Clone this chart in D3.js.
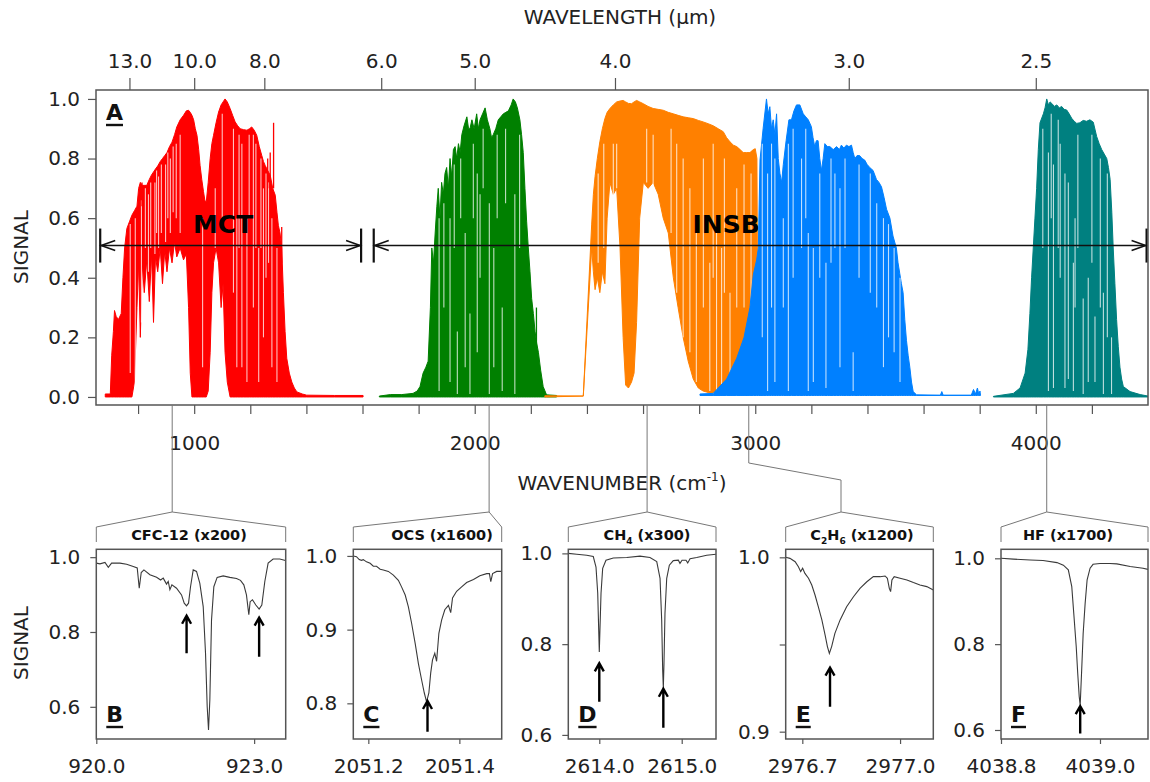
<!DOCTYPE html>
<html>
<head>
<meta charset="utf-8">
<script src="https://cdn.jsdelivr.net/npm/d3@7"></script>
<style>
body{margin:0;background:#fff}
svg text{font-family:"DejaVu Sans",Verdana,sans-serif;fill:#222}
</style>
</head>
<body>
<svg id="fig" width="1150" height="782"></svg>
<script>
// ---------- panel A : axes ----------
var wavelengthTicks = [13.0, 10.0, 8.0, 6.0, 5.0, 4.0, 3.0, 2.5]
var wavenumberTicks = [800,1000,1200,1400,1600,1800,2000,2200,2400,2600,2800,3000,3200,3400,3600,3800,4000,4200]
var signalTicksA = [0, 0.2, 0.4, 0.6, 0.8, 1.0]
var detectors = [
	{name:'MCT', from:665, to:1595, labelAt:1103},
	{name:'INSB', from:1640, to:4395, labelAt:2896}
]
var detectorLevel = 0.508

// ---------- panel A : filter spectra  [wavenumber, upper envelope, lower envelope] ----------
var redSpec = [[683,0.01,0],[701,0.01,0],[706,0.14,0],[712,0.22,0],[716,0.29,0],[722,0.27,0],[730,0.26,0],[740,0.28,0],
	[746,0.4,0],[752,0.5,0],[760,0.565,0],[770,0.59,0],[778,0.61,0],[787,0.625,0.05],[796,0.64,0.3],[802,0.70,0.45],
	[808,0.72,0.2],[815,0.71,0.45],[822,0.71,0.35],[831,0.71,0.46],[840,0.73,0.32],[848,0.745,0.48],[855,0.755,0.25],
	[862,0.765,0.47],[870,0.775,0.42],[879,0.79,0.5],[887,0.80,0.38],[895,0.81,0.49],[903,0.82,0.42],[912,0.84,0.5],
	[921,0.855,0.45],[930,0.88,0.52],[938,0.906,0.47],[950,0.93,0.5],[962,0.945,0.46],[972,0.96,0.48],[980,0.962,0.3],
	[986,0.955,0.08],[992,0.945,0],[998,0.93,0],[1004,0.9,0],[1010,0.878,0],[1016,0.83,0],[1021,0.777,0],[1027,0.73,0],
	[1033,0.69,0],[1038,0.66,0],[1043,0.654,0],[1050,0.72,0.02],[1057,0.8,0.15],[1063,0.85,0.35],[1069,0.878,0.45],
	[1078,0.92,0.5],[1087,0.956,0.45],[1096,0.98,0.3],[1103,0.99,0.38],[1110,1.0,0.15],[1118,0.99,0.05],[1128,0.968,0],
	[1137,0.945,0],[1146,0.923,0],[1155,0.91,0],[1164,0.9,0],[1176,0.897,0],[1188,0.895,0],[1197,0.9,0],[1205,0.906,0],
	[1214,0.895,0],[1223,0.878,0],[1232,0.84,0],[1241,0.81,0],[1247,0.79,0],[1253,0.777,0],[1262,0.76,0],[1271,0.744,0],
	[1280,0.7,0],[1289,0.677,0],[1295,0.62,0],[1300,0.576,0],[1306,0.55,0],[1312,0.5,0],[1318,0.35,0],[1324,0.22,0],
	[1330,0.13,0],[1339,0.08,0],[1348,0.05,0],[1357,0.03,0],[1366,0.017,0],[1385,0.01,0],[1401,0.006,0],[1500,0.005,0],[1602,0.005,0]]
var redGaps = [[772,0.58,0.08],[790,0.6,0.02],[812,0.66,0.25],[826,0.7,0.5],[837,0.68,0.42],[845,0.72,0.5],[860,0.72,0.48],
	[866,0.76,0.55],[873,0.74,0.5],[883,0.78,0.55],[898,0.78,0.52],[906,0.82,0.6],[915,0.8,0.55],[925,0.84,0.62],[936,0.85,0.6],
	[950,0.88,0.55],[1030,0.6,0.1],[1075,0.7,0.5],[1100,0.95,0.6],[1140,0.9,0.35],[1152,0.6,0.1],[1160,0.88,0.5],[1170,0.85,0.1],
	[1188,0.6,0.05],[1196,0.88,0.6],[1211,0.88,0.3],[1220,0.85,0.5],[1230,0.5,0.05],[1238,0.8,0.5],[1247,0.7,0.2],[1256,0.75,0.4],
	[1265,0.72,0.45],[1277,0.6,0.1],[1295,0.5,0.05]]
var redSpikes = [[814,0.64,0.72],[1262,0.7,0.8],[1271,0.7,0.82],[1283,0.7,0.92],[1312,0.45,0.57]]

var greenSpec = [[1660,0.003,0],[1700,0.008,0],[1740,0.008,0],[1780,0.012,0],[1795,0.02,0],[1805,0.035,0],[1816,0.08,0],
	[1826,0.1,0],[1834,0.12,0],[1842,0.3,0],[1847,0.5,0],[1853,0.45,0],[1859,0.55,0],[1865,0.64,0],[1870,0.7,0],[1876,0.6,0],
	[1882,0.72,0],[1888,0.68,0],[1894,0.75,0],[1900,0.77,0],[1906,0.7,0],[1912,0.8,0],[1918,0.74,0],[1924,0.83,0],[1930,0.84,0],
	[1936,0.8,0],[1942,0.85,0],[1948,0.82,0],[1954,0.88,0],[1962,0.91,0],[1972,0.94,0],[1978,0.9,0],[1983,0.9,0],[1990,0.93,0],
	[1998,0.9,0],[2007,0.95,0],[2013,0.9,0],[2019,0.93,0],[2028,0.95,0],[2037,0.97,0],[2045,0.93,0],[2054,0.9,0],[2060,0.87,0],
	[2066,0.88,0],[2075,0.9,0],[2084,0.93,0],[2093,0.94,0],[2102,0.95,0],[2111,0.955,0],[2120,0.96,0],[2130,0.98,0],[2137,1.0,0],
	[2145,0.99,0],[2152,0.97,0],[2161,0.93,0],[2167,0.88,0],[2173,0.82,0],[2179,0.7,0],[2185,0.59,0],[2191,0.5,0],[2197,0.42,0],
	[2203,0.33,0],[2209,0.28,0],[2215,0.22,0],[2221,0.18,0],[2227,0.15,0],[2235,0.09,0],[2244,0.035,0],[2256,0.007,0],[2292,0.005,0]]
var greenGaps = [[1873,0.6,0.02],[1890,0.65,0.3],[1912,0.6,0.05],[1927,0.78,0.5],[1938,0.22,0.01],[1950,0.8,0.6],[1966,0.55,0.1],
	[1983,0.28,0.01],[1995,0.85,0.6],[2009,0.75,0.15],[2019,0.68,0.4],[2030,0.9,0.7],[2052,0.65,0.01],[2068,0.5,0.1],[2080,0.88,0.6],
	[2098,0.3,0.02],[2110,0.9,0.65],[2143,0.68,0.01],[2160,0.88,0.5]]
var greenSpikes = [[2220,0.15,0.3]]

var orangeSpec = [[2250,0.004,0],[2387,0.003,0.003],[2417,0.58,0.5],[2423,0.68,0.42],[2429,0.74,0.36],[2437,0.8,0.4],
	[2446,0.856,0.35],[2455,0.9,0.42],[2464,0.934,0.38],[2472,0.955,0.6],[2482,0.968,0.72],[2494,0.98,0.68],[2506,0.99,0.7],
	[2518,0.993,0.5],[2529,0.995,0.2],[2538,0.99,0.04],[2548,0.985,0.03],[2559,0.984,0.05],[2568,0.99,0.08],[2577,0.995,0.25],
	[2588,0.99,0.6],[2601,0.984,0.72],[2618,0.975,0.7],[2636,0.968,0.72],[2654,0.965,0.68],[2672,0.962,0.6],[2690,0.955,0.55],
	[2708,0.95,0.4],[2725,0.945,0.3],[2743,0.94,0.2],[2761,0.937,0.12],[2779,0.934,0.06],[2797,0.928,0.03],[2814,0.923,0.02],
	[2832,0.917,0.015],[2850,0.91,0.015],[2868,0.9,0.015],[2886,0.89,0.015],[2898,0.87,0.015],[2910,0.856,0.015],[2922,0.845,0.015],
	[2934,0.84,0.015],[2946,0.83,0.015],[2957,0.82,0.015],[2969,0.82,0.015],[2981,0.82,0.015],[2993,0.83,0.015],[3000,0.833,0.015],
	[3006,0.8,0.015],[3010,0.015,0.015]]
var orangeGaps = [[2440,0.75,0.45],[2460,0.85,0.5],[2494,0.85,0.6],[2506,0.85,0.7],[2613,0.9,0.72],[2636,0.88,0.7],
	[2700,0.9,0.55],[2720,0.85,0.35],[2743,0.8,0.2],[2767,0.7,0.15],[2790,0.6,0.05],[2815,0.8,0.3],[2838,0.45,0.02],
	[2850,0.85,0.4],[2862,0.6,0.02],[2880,0.5,0.02],[2890,0.8,0.35],[2910,0.35,0.02],[2934,0.7,0.3],[2960,0.78,0.3],[2985,0.75,0.1]]

var blueSpec = [[2803,0.01,0.005],[2850,0.012,0.005],[2898,0.06,0.005],[2934,0.13,0.005],[2960,0.2,0.005],[2981,0.3,0.005],
	[2993,0.41,0.005],[3005,0.46,0.005],[3011,0.5,0.005],[3017,0.795,0.005],[3028,0.9,0.005],[3040,1.0,0.005],[3046,0.95,0.005],
	[3052,0.974,0.005],[3058,0.9,0.005],[3064,0.93,0.005],[3070,0.88,0.005],[3076,0.95,0.005],[3082,0.8,0.005],[3088,0.75,0.005],
	[3094,0.72,0.005],[3100,0.78,0.005],[3110,0.86,0.005],[3120,0.93,0.005],[3129,0.93,0.005],[3138,0.96,0.005],[3147,0.98,0.005],
	[3159,0.98,0.005],[3171,0.95,0.005],[3180,0.94,0.005],[3189,0.93,0.005],[3200,0.907,0.005],[3206,0.87,0.005],[3212,0.84,0.005],
	[3218,0.86,0.005],[3224,0.86,0.005],[3230,0.8,0.005],[3236,0.76,0.005],[3242,0.8,0.005],[3248,0.85,0.005],[3257,0.84,0.005],
	[3266,0.84,0.005],[3278,0.83,0.005],[3290,0.84,0.005],[3300,0.83,0.005],[3307,0.845,0.005],[3316,0.835,0.005],[3325,0.845,0.005],
	[3334,0.84,0.005],[3343,0.845,0.005],[3349,0.82,0.005],[3355,0.8,0.005],[3363,0.81,0.005],[3372,0.81,0.005],[3381,0.8,0.005],
	[3390,0.795,0.005],[3399,0.78,0.005],[3408,0.77,0.005],[3420,0.76,0.005],[3432,0.73,0.005],[3441,0.72,0.005],[3450,0.705,0.005],
	[3459,0.67,0.005],[3468,0.63,0.005],[3480,0.6,0.005],[3491,0.54,0.005],[3497,0.52,0.005],[3503,0.5,0.005],[3509,0.45,0.005],
	[3515,0.415,0.005],[3521,0.38,0.005],[3527,0.35,0.005],[3533,0.26,0.005],[3539,0.19,0.005],[3545,0.14,0.005],[3551,0.1,0.005],
	[3557,0.05,0.005],[3563,0.018,0.005],[3575,0.007,0.005],[3660,0.006,0.005],[3665,0.018,0.005],[3670,0.006,0.005],
	[3770,0.006,0.005],[3778,0.025,0.005],[3785,0.01,0.005],[3792,0.03,0.005],[3797,0.008,0.005],[3801,0.02,0.005],[3803,0.005,0.005]]
var blueGaps = [[3025,0.85,0.2],[3044,0.75,0.02],[3058,0.85,0.3],[3070,0.8,0.05],[3100,0.6,0.3],[3118,0.85,0.02],[3135,0.9,0.4],
	[3165,0.8,0.5],[3180,0.9,0.6],[3189,0.55,0.02],[3207,0.5,0.05],[3230,0.75,0.4],[3252,0.45,0.03],[3270,0.8,0.45],[3284,0.75,0.5],
	[3302,0.7,0.1],[3320,0.8,0.5],[3349,0.15,0.02],[3370,0.78,0.4],[3410,0.75,0.35],[3433,0.65,0.3],[3457,0.6,0.1],[3475,0.58,0.2],
	[3495,0.5,0.15],[3516,0.4,0.05]]

var tealSpec = [[3849,0.002,0],[3920,0.012,0],[3944,0.03,0],[3962,0.08,0],[3972,0.16,0],[3979,0.28,0],[3985,0.4,0],[3991,0.5,0],
	[3997,0.6,0],[4003,0.7,0],[4009,0.83,0],[4015,0.92,0],[4027,0.95,0],[4033,0.97,0],[4039,1.0,0],[4045,0.98,0],[4051,0.99,0],
	[4057,0.985,0],[4066,0.975,0],[4075,0.98,0],[4084,0.97,0],[4092,0.975,0],[4101,0.965,0],[4110,0.963,0],[4119,0.95,0],
	[4128,0.935,0],[4137,0.925,0],[4146,0.918,0],[4157,0.92,0],[4169,0.928,0],[4181,0.925,0],[4193,0.93,0],[4205,0.922,0],
	[4217,0.874,0],[4226,0.85,0],[4235,0.83,0],[4244,0.815,0],[4253,0.8,0],[4259,0.77,0],[4265,0.73,0],[4271,0.62,0],[4276,0.5,0],
	[4282,0.38,0],[4288,0.26,0],[4294,0.17,0],[4300,0.1,0],[4306,0.06,0],[4312,0.035,0],[4336,0.018,0],[4372,0.008,0],[4400,0.003,0]]
var tealGaps = [[4025,0.9,0.5],[4045,0.82,0.02],[4055,0.95,0.6],[4063,0.78,0.03],[4080,0.93,0.5],[4087,0.85,0.4],[4104,0.75,0.03],
	[4116,0.72,0.06],[4134,0.45,0.02],[4140,0.6,0.3],[4150,0.88,0.5],[4169,0.33,0.01],[4187,0.4,0.05],[4200,0.88,0.45],
	[4211,0.27,0.05],[4230,0.8,0.3],[4241,0.35,0.01],[4255,0.75,0.2],[4270,0.2,0.01]]

// ---------- panels B-F : single-line spectra [wavenumber, signal] ----------
var cfc12Spec = [[920.000,0.984],[920.070,0.982],[920.165,0.986],[920.228,0.973],[920.291,0.984],[920.449,0.984],[920.576,0.981],
	[920.703,0.975],[920.778,0.971],[920.816,0.917],[920.854,0.959],[920.905,0.966],[921.019,0.953],[921.146,0.946],[921.222,0.939],
	[921.272,0.944],[921.335,0.928],[921.367,0.935],[921.399,0.913],[921.437,0.926],[921.525,0.917],[921.620,0.899],[921.671,0.877],
	[921.715,0.870],[921.753,0.877],[921.791,0.921],[921.842,0.966],[921.905,0.962],[921.968,0.930],[922.032,0.868],[922.076,0.743],
	[922.108,0.600],[922.133,0.538],[922.158,0.618],[922.190,0.832],[922.234,0.921],[922.297,0.946],[922.411,0.950],[922.538,0.946],
	[922.665,0.943],[922.741,0.938],[922.804,0.926],[922.854,0.899],[922.899,0.846],[922.924,0.881],[922.968,0.886],[923.032,0.872],
	[923.095,0.861],[923.146,0.872],[923.203,0.935],[923.266,0.984],[923.361,0.995],[923.487,0.995],[923.595,0.991]]
var ocsSpec = [[2051.167,1.000],[2051.174,0.999],[2051.180,0.995],[2051.185,0.994],[2051.189,0.995],[2051.196,0.992],[2051.204,0.990],
	[2051.211,0.986],[2051.218,0.986],[2051.226,0.982],[2051.233,0.981],[2051.244,0.979],[2051.255,0.974],[2051.266,0.967],
	[2051.273,0.958],[2051.281,0.947],[2051.288,0.931],[2051.295,0.909],[2051.303,0.881],[2051.310,0.854],[2051.317,0.832],
	[2051.323,0.814],[2051.328,0.802],[2051.333,0.814],[2051.337,0.841],[2051.341,0.859],[2051.346,0.868],[2051.350,0.857],
	[2051.355,0.895],[2051.361,0.913],[2051.368,0.927],[2051.376,0.933],[2051.381,0.923],[2051.385,0.943],[2051.394,0.952],
	[2051.405,0.958],[2051.416,0.964],[2051.431,0.968],[2051.445,0.973],[2051.460,0.976],[2051.466,0.976],[2051.469,0.965],
	[2051.473,0.976],[2051.482,0.979],[2051.493,0.979]]
var ch4Spec = [[2613.624,1.000],[2613.726,0.998],[2613.847,0.996],[2613.927,0.993],[2613.960,0.970],[2613.981,0.912],[2614.000,0.783],
	[2614.021,0.912],[2614.041,0.967],[2614.081,0.985],[2614.170,0.990],[2614.333,0.991],[2614.494,0.994],[2614.615,0.991],
	[2614.697,0.982],[2614.737,0.945],[2614.757,0.853],[2614.769,0.743],[2614.777,0.703],[2614.785,0.758],[2614.797,0.868],
	[2614.818,0.945],[2614.850,0.974],[2614.898,0.984],[2614.959,0.985],[2614.979,0.978],[2615.004,0.985],[2615.052,0.985],
	[2615.073,0.979],[2615.101,0.988],[2615.182,0.991],[2615.303,0.996],[2615.416,0.998]]
var c2h6Spec = [[2976.649,1.000],[2976.662,0.9994],[2976.678,0.9975],[2976.688,0.9946],[2976.695,0.9918],[2976.701,0.9937],
	[2976.708,0.9908],[2976.719,0.9880],[2976.729,0.9841],[2976.739,0.9784],[2976.749,0.9717],[2976.760,0.9641],[2976.770,0.9554],
	[2976.777,0.9488],[2976.783,0.9449],[2976.790,0.9488],[2976.800,0.9564],[2976.816,0.9641],[2976.836,0.9717],[2976.857,0.9774],
	[2976.877,0.9822],[2976.898,0.9860],[2976.918,0.9889],[2976.939,0.9889],[2976.954,0.9893],[2976.961,0.9880],[2976.967,0.9822],
	[2976.971,0.9803],[2976.975,0.9870],[2976.982,0.9889],[2977.000,0.9880],[2977.021,0.9870],[2977.041,0.9855],[2977.061,0.9841],
	[2977.082,0.9832],[2977.102,0.9813]]
var hfSpec = [[4038.800,1.000],[4038.825,0.998],[4038.859,0.996],[4038.885,0.995],[4038.913,0.990],[4038.926,0.984],[4038.936,0.973],
	[4038.943,0.934],[4038.947,0.872],[4038.952,0.794],[4038.955,0.732],[4038.958,0.678],[4038.960,0.658],[4038.963,0.740],
	[4038.966,0.825],[4038.970,0.895],[4038.974,0.950],[4038.980,0.977],[4038.986,0.986],[4039.000,0.988],[4039.020,0.988],
	[4039.034,0.987],[4039.061,0.981],[4039.087,0.977],[4039.101,0.973]]

// arrows marking the target lines [wavenumber, tail signal, head signal]
var cfc12Arrows = [[921.716,0.743,0.846],[923.095,0.734,0.841]]
var ocsArrows = [[2051.33,0.7615,0.8045]]
var ch4Arrows = [[2614.0,0.673,0.76],[2614.777,0.616,0.704]]
var c2h6Arrows = [[2976.785,0.9143,0.9373]]
var hfArrows = [[4038.96,0.592,0.658]]

// ---------- drawing ----------
var svg = d3.select('#fig')
var FONT = '"DejaVu Sans",Verdana,sans-serif'
var BOLD = '"Liberation Sans",Arial,sans-serif'
var box = {left:96, right:1148, top:90, bottom:405}
var xA = d3.scaleLinear().domain([650,4400]).range([box.left,box.right])
var yA = d3.scaleLinear().domain([-0.027,1.03]).range([box.bottom,box.top])

function styleAxis(g){
	g.attr('font-size',20).attr('font-family',FONT)
	g.select('.domain').remove()
	g.selectAll('.tick line').attr('stroke','#555').attr('stroke-width',1.2)
	g.selectAll('.tick text').attr('fill','#222')
}

svg.append('defs').append('clipPath').attr('id','clipA')
	.append('rect').attr('x',box.left).attr('y',box.top)
	.attr('width',box.right-box.left).attr('height',box.bottom-box.top)

var bands = [
	{color:'#ff0000', spec:redSpec, gaps:redGaps, spikes:redSpikes},
	{color:'#008000', spec:greenSpec, gaps:greenGaps, spikes:greenSpikes},
	{color:'#ff8000', spec:orangeSpec, gaps:orangeGaps, spikes:[]},
	{color:'#0080ff', spec:blueSpec, gaps:blueGaps, spikes:[]},
	{color:'#008080', spec:tealSpec, gaps:tealGaps, spikes:[]}
]
var bandArea = d3.area()
	.x(function(d){ return xA(d[0]) })
	.y0(function(d){ return yA(d[2]) })
	.y1(function(d){ return yA(d[1]) })
var plotA = svg.append('g').attr('clip-path','url(#clipA)')
bands.forEach(function(b){
	plotA.append('path')
		.datum(b.spec)
		.attr('d',bandArea)
		.attr('fill',b.color)
		.attr('stroke',b.color)
		.attr('stroke-width',1)
	plotA.selectAll(null).data(b.gaps).enter().append('line')
		.attr('x1',function(d){ return xA(d[0]) })
		.attr('x2',function(d){ return xA(d[0]) })
		.attr('y1',function(d){ return yA(d[1]) })
		.attr('y2',function(d){ return yA(d[2]) })
		.attr('stroke','#fff').attr('stroke-opacity',0.75).attr('stroke-width',1.1)
	plotA.selectAll(null).data(b.spikes).enter().append('line')
		.attr('x1',function(d){ return xA(d[0]) })
		.attr('x2',function(d){ return xA(d[0]) })
		.attr('y1',function(d){ return yA(d[1]) })
		.attr('y2',function(d){ return yA(d[2]) })
		.attr('stroke',b.color).attr('stroke-width',1.3)
})

// detector ranges
detectors.forEach(function(d){
	var y = yA(detectorLevel), x0 = xA(d.from), x1 = xA(d.to)
	var g = svg.append('g').attr('stroke','#111').attr('fill','none')
	g.append('line').attr('x1',x0).attr('x2',x1).attr('y1',y).attr('y2',y).attr('stroke-width',1.6)
	g.append('line').attr('x1',x0).attr('x2',x0).attr('y1',y-17).attr('y2',y+17).attr('stroke-width',2.2)
	g.append('line').attr('x1',x1).attr('x2',x1).attr('y1',y-17).attr('y2',y+17).attr('stroke-width',2.2)
	g.append('path').attr('d','M'+(x0+15)+','+(y-5)+'L'+(x0+1)+','+y+'L'+(x0+15)+','+(y+5)).attr('stroke-width',1.6)
	g.append('path').attr('d','M'+(x1-15)+','+(y-5)+'L'+(x1-1)+','+y+'L'+(x1-15)+','+(y+5)).attr('stroke-width',1.6)
	svg.append('text').attr('x',xA(d.labelAt)).attr('y',y-12.5)
		.attr('text-anchor','middle').attr('font-family',BOLD).attr('font-weight','bold')
		.attr('font-size',25).style('fill','#000').text(d.name)
})

svg.append('rect').attr('x',box.left).attr('y',box.top)
	.attr('width',box.right-box.left).attr('height',box.bottom-box.top)
	.attr('fill','none').attr('stroke','#555').attr('stroke-width',1.5)

// axes of panel A
var topAxis = svg.append('g').attr('transform','translate(0,'+box.top+')')
	.call(d3.axisTop(xA)
		.tickValues(wavelengthTicks.map(function(l){ return 1e4/l }))
		.tickFormat(function(v){ return (1e4/v).toFixed(1) })
		.tickSize(12).tickPadding(10))
styleAxis(topAxis)
var botAxis = svg.append('g').attr('transform','translate(0,'+box.bottom+')')
	.call(d3.axisBottom(xA).tickValues(wavenumberTicks)
		.tickFormat(function(v){ return v%1000===0 ? v : '' })
		.tickSize(9).tickPadding(22))
styleAxis(botAxis)
var leftAxis = svg.append('g').attr('transform','translate('+box.left+',0)')
	.call(d3.axisLeft(yA).tickValues(signalTicksA).tickFormat(d3.format('.1f')).tickSize(8).tickPadding(8))
styleAxis(leftAxis)

svg.append('text').attr('x',620).attr('y',24).attr('text-anchor','middle').attr('font-size',20).text('WAVELENGTH (\u03bcm)')
var wnTitle = svg.append('text').attr('x',622).attr('y',490).attr('text-anchor','middle').attr('font-size',20)
wnTitle.append('tspan').text('WAVENUMBER (cm')
wnTitle.append('tspan').attr('font-size',12).attr('dy',-9).text('-1')
wnTitle.append('tspan').attr('dy',9).text(')')
svg.append('text').attr('transform','translate(28,247) rotate(-90)').attr('text-anchor','middle').attr('font-size',20).text('SIGNAL')
svg.append('text').attr('transform','translate(28,643) rotate(-90)').attr('text-anchor','middle').attr('font-size',20).text('SIGNAL')

function panelLetter(x,y,t){
	var txt = svg.append('text').attr('x',x).attr('y',y).attr('font-family',BOLD).attr('font-weight','bold')
		.attr('font-size',22).style('fill','#111').text(t)
	var w = txt.node().getComputedTextLength()
	svg.append('line').attr('x1',x).attr('x2',x+w).attr('y1',y+5).attr('y2',y+5)
		.attr('stroke','#111').attr('stroke-width',2.4)
}
panelLetter(106,120,'A')

// ---------- insets ----------
var insetTop = 549.3, insetBottom = 739
var insets = [
	{letter:'B', title:[['CFC-12 (x200)',0]], titleX:189, spec:cfc12Spec, arrows:cfc12Arrows, centerWn:921.6,
		left:96.3, right:285.7, xDom:[920,923.6], yDom:[0.514,1.021], xTicks:[920,923], yTicks:[0.6,0.8,1.0]},
	{letter:'C', title:[['OCS (x1600)',0]], titleX:442, spec:ocsSpec, arrows:ocsArrows, centerWn:2051.3,
		left:353.3, right:501.7, xDom:[2051.167,2051.493], yDom:[0.7516,1.009], xTicks:[2051.2,2051.4], yTicks:[0.8,0.9,1.0]},
	{letter:'D', title:[['CH',0],['4',1],[' (x300)',0]], titleX:647, spec:ch4Spec, arrows:ch4Arrows, centerWn:2614.5,
		left:568.3, right:716, xDom:[2613.624,2615.416], yDom:[0.591,1.009], xTicks:[2614,2615], yTicks:[0.6,0.8,1.0]},
	{letter:'E', title:[['C',0],['2',1],['H',0],['6',1],[' (x1200)',0]], titleX:862, spec:c2h6Spec, arrows:c2h6Arrows, centerWn:2976.9,
		left:785.7, right:933.3, xDom:[2976.649,2977.102], yDom:[0.8958,1.0046], xTicks:[2976.7,2977.0], yTicks:[0.9,0.95,1.0],
		elbow:{y1:463, x:841, y2:480}},
	{letter:'F', title:[['HF (x1700)',0]], titleX:1068, spec:hfSpec, arrows:hfArrows, centerWn:4039.0,
		left:1001, right:1148, xDom:[4038.8,4039.097], yDom:[0.579,1.021], xTicks:[4038.8,4039.0], yTicks:[0.6,0.8,1.0]}
]

insets.forEach(function(p){
	var x = d3.scaleLinear().domain(p.xDom).range([p.left,p.right])
	var y = d3.scaleLinear().domain(p.yDom).range([insetBottom,insetTop])

	// connector from the main axis and roof bracket
	var ax = xA(p.centerWn), apexX = ax, conn = 'M'+ax+','+box.bottom
	if (p.elbow){
		conn += 'L'+ax+','+p.elbow.y1+'L'+p.elbow.x+','+p.elbow.y2
		apexX = p.elbow.x
	}
	conn += 'L'+apexX+',512'
	svg.append('path').attr('d',conn).attr('fill','none').attr('stroke','#777').attr('stroke-width',1)
	svg.append('path')
		.attr('d','M'+p.left+',542L'+p.left+',527L'+apexX+',512L'+p.right+',527L'+p.right+',542')
		.attr('fill','none').attr('stroke','#777').attr('stroke-width',1)

	var t = svg.append('text').attr('x',p.titleX).attr('y',540).attr('text-anchor','middle')
		.attr('font-weight','bold').attr('font-size',14.5).style('fill','#111')
	var prevSub = 0
	p.title.forEach(function(part){
		var s = t.append('tspan').text(part[0])
		if (part[1]) s.attr('font-size',9).attr('dy',4)
		else if (prevSub) s.attr('dy',-4)
		prevSub = part[1]
	})

	var clipId = 'clip'+p.letter
	svg.select('defs').append('clipPath').attr('id',clipId).append('rect')
		.attr('x',p.left).attr('y',insetTop).attr('width',p.right-p.left).attr('height',insetBottom-insetTop)
	svg.append('path').datum(p.spec)
		.attr('clip-path','url(#'+clipId+')')
		.attr('d',d3.line().x(function(d){ return x(d[0]) }).y(function(d){ return y(d[1]) }))
		.attr('fill','none').attr('stroke','#3a3a3a').attr('stroke-width',1.1)

	p.arrows.forEach(function(a){
		var ax2 = x(a[0]), y0 = y(a[1]), y1 = y(a[2])
		svg.append('path')
			.attr('d','M'+ax2+','+y0+'L'+ax2+','+(y1+1)+'M'+(ax2-4.5)+','+(y1+9)+'L'+ax2+','+(y1+1)+'L'+(ax2+4.5)+','+(y1+9))
			.attr('fill','none').attr('stroke','#000').attr('stroke-width',2.4)
	})

	svg.append('rect').attr('x',p.left).attr('y',insetTop)
		.attr('width',p.right-p.left).attr('height',insetBottom-insetTop)
		.attr('fill','none').attr('stroke','#555').attr('stroke-width',1.5)

	var gx = svg.append('g').attr('transform','translate(0,'+insetBottom+')')
		.call(d3.axisBottom(x).tickValues(p.xTicks).tickFormat(d3.format('.1f')).tickSize(5).tickPadding(15))
	styleAxis(gx)
	var gy = svg.append('g').attr('transform','translate('+p.left+',0)')
		.call(d3.axisLeft(y).tickValues(p.yTicks)
			.tickFormat(function(v){ return v===0.95 ? '' : v.toFixed(1) })
			.tickSize(6).tickPadding(10))
	styleAxis(gy)

	panelLetter(p.left+10,722,p.letter)
})
</script>
</body>
</html>
